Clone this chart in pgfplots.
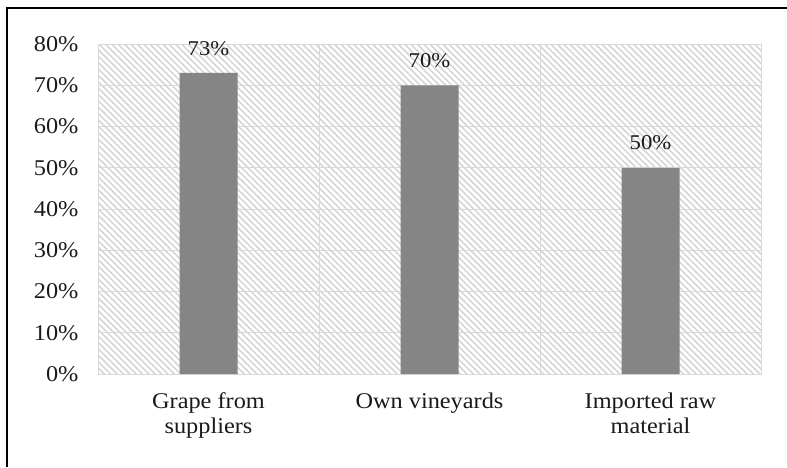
\documentclass[border=0pt]{standalone}
\usepackage{fontspec}
\setmainfont[FakeStretch=1.08]{Liberation Serif}
\usepackage{pgfplots}
\pgfplotsset{compat=1.18}
\usetikzlibrary{patterns.meta}
\definecolor{barcol}{HTML}{858585}
\definecolor{gridcol}{HTML}{D9D9D9}
\definecolor{hatchcol}{HTML}{D4D4D4}
\definecolor{txt}{HTML}{1A1A1A}
\begin{document}
\begin{tikzpicture}
\useasboundingbox (0,0) rectangle (787pt,467pt);
\fill[white] (0,0) rectangle (787pt,467pt);
\draw[line width=2pt] (7pt,0pt) |- (787pt,459pt);
\begin{axis}[
  at={(98pt,93pt)}, anchor=south west,
  scale only axis, width=663pt, height=330pt,
  ybar, bar width=58pt,
  xmin=0.5, xmax=3.5, ymin=0, ymax=80,
  xtick={1,2,3},
  xticklabels={{Grape from\\suppliers},{Own vineyards},{Imported raw\\material}},
  xticklabel style={align=center, text=txt, font=\fontsize{22.5}{25}\selectfont, yshift=-15pt},
  minor xtick={1.5,2.5},
  xminorgrids=true,
  ytick={0,10,...,80},
  yticklabel={\pgfmathprintnumber{\tick}\%},
  yticklabel style={text=txt, font=\fontsize{22.5}{25}\selectfont, xshift=-16pt},
  /pgf/number format/assume math mode=true,
  ymajorgrids=true,
  major grid style={gridcol, line width=1pt},
  minor grid style={gridcol, line width=1pt},
  axis line style={gridcol, line width=1pt},
  major tick length=0pt, minor tick length=0pt,
  axis background/.style={pattern={Lines[angle=-45, distance=4.5pt, line width=1.5pt]}, pattern color=hatchcol},
  nodes near coords={\pgfmathprintnumber{\pgfplotspointmeta}\%},
  nodes near coords style={text=txt, font=\fontsize{21}{24}\selectfont, yshift=14pt},
]
\addplot[fill=barcol, draw=none] coordinates {(1,73) (2,70) (3,50)};
\end{axis}
\end{tikzpicture}
\end{document}
